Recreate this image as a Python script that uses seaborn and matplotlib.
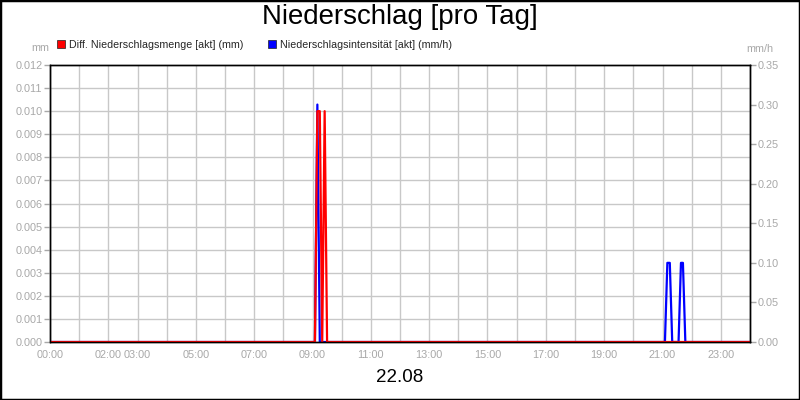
import matplotlib
matplotlib.use("Agg")
import matplotlib.pyplot as plt
from matplotlib.lines import Line2D
from matplotlib.patches import Rectangle
import numpy as np
import pandas as pd
import seaborn as sns

# ---- data ----
title = "Niederschlag [pro Tag]"
date_label = "22.08"
legend_labels = ["Diff. Niederschlagsmenge [akt] (mm)", "Niederschlagsintensität [akt] (mm/h)"]
left_unit = "mm"
right_unit = "mm/h"

red_times = ["00:00", "09:05", "09:10", "09:15", "09:20", "09:25", "09:30", "24:00"]
red_values = [0.0, 0.0, 0.010, 0.010, 0.0, 0.010, 0.0, 0.0]

blue_times = ["00:00", "09:05", "09:10", "09:15", "21:05", "21:10", "21:15", "21:20",
              "21:33", "21:38", "21:42", "21:47", "24:00"]
blue_values = [0.0, 0.0, 0.30, 0.0, 0.0, 0.10, 0.10, 0.0, 0.0, 0.10, 0.10, 0.0, 0.0]

labeled_hours = ["00:00", "02:00", "03:00", "05:00", "07:00", "09:00", "11:00",
                 "13:00", "15:00", "17:00", "19:00", "21:00", "23:00"]
left_ticks = [0.000, 0.001, 0.002, 0.003, 0.004, 0.005, 0.006, 0.007, 0.008, 0.009, 0.010, 0.011, 0.012]
right_ticks = [0.00, 0.05, 0.10, 0.15, 0.20, 0.25, 0.30, 0.35]


def to_hours(t):
    h, m = t.split(":")
    return int(h) + int(m) / 60.0


red_df = pd.DataFrame({"t": [to_hours(t) for t in red_times], "v": red_values})
blue_df = pd.DataFrame({"t": [to_hours(t) for t in blue_times], "v": blue_values})

# ---- style ----
sns.set_style("white")
plt.rcParams["font.family"] = ["Liberation Sans", "DejaVu Sans"]

RED = "#ff0000"
BLUE = "#0000ff"
GRID = "#c8c8c8"
TICKC = "#a8a8a8"
TICKFS = 7.8

fig = plt.figure(figsize=(8, 4), dpi=100)
fig.patch.set_facecolor("white")

# bottom axes: mm/h (blue) with grid; top axes: mm (red)
ax_r = fig.add_axes([50 / 800, 1 - 342 / 400, 700 / 800, 277 / 400])
ax_l = ax_r.twinx()
ax_l.set_zorder(ax_r.get_zorder() + 1)
ax_l.patch.set_visible(False)

sns.lineplot(data=blue_df, x="t", y="v", ax=ax_r, color=BLUE, linewidth=1.6)
sns.lineplot(data=red_df, x="t", y="v", ax=ax_l, color=RED, linewidth=1.6)

ax_r.set_xlim(0, 24)
ax_r.set_ylim(right_ticks[0], right_ticks[-1])
ax_l.set_ylim(left_ticks[0], left_ticks[-1])

ax_r.yaxis.tick_right()
ax_l.yaxis.tick_left()
ax_r.set_yticks(right_ticks)
ax_r.set_yticklabels([f"{v:.2f}" for v in right_ticks])
ax_l.set_yticks(left_ticks)
ax_l.set_yticklabels([f"{v:.3f}" for v in left_ticks])

hours = list(range(0, 25))
lab_set = {to_hours(t): t for t in labeled_hours}
ax_r.set_xticks(hours)
ax_r.set_xticklabels([lab_set.get(h, "") for h in hours])

# horizontal grid lines at the mm ticks, drawn on the bottom axes
minor_pos = [right_ticks[-1] * i / (len(left_ticks) - 1) for i in range(len(left_ticks))]
ax_r.set_yticks(minor_pos, minor=True)
ax_r.grid(which="minor", axis="y", color=GRID, linewidth=1.0)
ax_r.grid(which="major", axis="x", color=GRID, linewidth=1.0)
ax_r.grid(which="major", axis="y", visible=False)
ax_r.tick_params(axis="y", which="minor", length=0)

for a in (ax_r, ax_l):
    a.set_xlabel("")
    a.set_ylabel("")
    for s in a.spines.values():
        s.set_color("black")
        s.set_linewidth(1.0)
        s.set_visible(True)
    a.tick_params(axis="both", which="major", length=4, width=1, colors=TICKC,
                  labelsize=TICKFS, pad=1.5, direction="out")
ax_l.tick_params(axis="x", which="both", length=0, labelbottom=False)
ax_r.tick_params(axis="y", which="major", right=True, left=False,
                 labelright=True, labelleft=False)

# units
fig.text(40 / 800, 1 - 48 / 400, left_unit, ha="center", va="center", fontsize=TICKFS, color=TICKC)
fig.text(760 / 800, 1 - 49 / 400, right_unit, ha="center", va="center", fontsize=TICKFS, color=TICKC)

# title and date
fig.text(0.5, 1 - 17 / 400, title, ha="center", va="center", fontsize=19.9, color="black")
fig.text(0.5, 1 - 377 / 400, date_label, ha="center", va="center", fontsize=13.5, color="black")

# legend
handles = [Line2D([], [], marker="s", linestyle="none", markersize=6,
                  markerfacecolor=c, markeredgecolor="#202020", markeredgewidth=0.5)
           for c in (RED, BLUE)]
leg = fig.legend(handles, legend_labels, loc="center left",
                 bbox_to_anchor=(57 / 800, 1 - 44.5 / 400), ncol=2, frameon=False,
                 fontsize=7.7, handlelength=0.8, handletextpad=0.3, columnspacing=2.3,
                 borderpad=0, borderaxespad=0)

# figure border
fig.patches.append(Rectangle((0, 0), 1, 1, transform=fig.transFigure, fill=False,
                             edgecolor="black", linewidth=2.5, zorder=10))

fig.savefig("out.png", dpi=100)
